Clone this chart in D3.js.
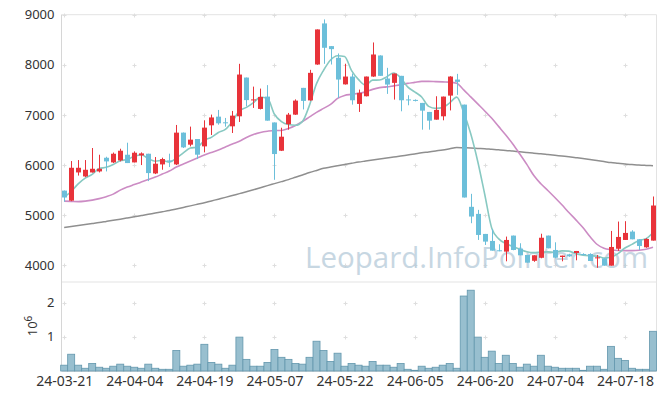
<!DOCTYPE html>
<html><head><meta charset="utf-8">
<script src="https://cdn.jsdelivr.net/npm/d3@7"></script>
<style>
body{margin:0;background:#fff;}
svg{display:block;font-family:"Noto Sans",sans-serif;}
</style></head>
<body><div id="chart"></div>
<script>
const dates = ["24-03-21","24-03-22","24-03-25","24-03-26","24-03-27","24-03-28","24-03-29","24-04-01","24-04-02","24-04-03",
"24-04-04","24-04-05","24-04-08","24-04-09","24-04-11","24-04-12","24-04-15","24-04-16","24-04-17","24-04-18",
"24-04-19","24-04-22","24-04-23","24-04-24","24-04-25","24-04-26","24-04-29","24-04-30","24-05-02","24-05-03",
"24-05-07","24-05-08","24-05-09","24-05-10","24-05-13","24-05-14","24-05-16","24-05-17","24-05-20","24-05-21",
"24-05-22","24-05-23","24-05-24","24-05-27","24-05-28","24-05-29","24-05-30","24-05-31","24-06-03","24-06-04",
"24-06-05","24-06-07","24-06-10","24-06-11","24-06-12","24-06-13","24-06-14","24-06-17","24-06-18","24-06-19",
"24-06-20","24-06-21","24-06-24","24-06-25","24-06-26","24-06-27","24-06-28","24-07-01","24-07-02","24-07-03",
"24-07-04","24-07-05","24-07-08","24-07-09","24-07-10","24-07-11","24-07-12","24-07-15","24-07-16","24-07-17",
"24-07-18","24-07-19","24-07-22","24-07-23","24-07-24"];

const open = [5490,5290,5853,5773,5853,5873,6146,6053,6093,6206,6053,6193,6226,5833,6013,6093,6013,6647,6407,6520,
6373,6793,6966,6853,6773,6973,7746,7290,7120,7366,6850,6286,6815,7006,7540,7290,8006,8826,8373,8140,
7610,7766,7220,7373,7766,8186,7726,7640,7780,7310,7300,7240,7060,6906,6973,7386,7706,7206,5167,5026,
4626,4486,4300,4273,4593,4333,4206,4090,4150,4593,4306,4166,4219,4246,4226,4226,4139,4139,3993,4330,
4506,4673,4519,4359,4493];
const high = [5493,6080,6100,6100,6340,6206,6166,6250,6326,6446,6273,6253,6226,6160,6147,6227,6800,6650,6767,6520,
6893,7007,7100,6940,7080,8020,7746,7565,7526,7595,6850,6745,7040,7310,7540,7900,8706,8906,8373,8226,
8020,7827,7506,7766,8446,8190,7940,7826,7780,7393,7310,7240,7060,7373,7366,7773,7820,7206,5426,5106,
4626,4720,4420,4573,4593,4440,4206,4200,4630,4593,4459,4193,4230,4286,4240,4240,4206,4139,4686,4873,
4880,4700,4519,4540,5373];
const low = [5270,5280,5790,5760,5850,5853,5873,6040,6073,6040,6053,6000,5680,5820,5907,5960,6000,6340,6373,6120,
6253,6600,6806,6766,6640,6860,7173,7140,7110,6886,5706,6280,6706,7000,7110,7285,8000,8020,8006,7340,
7606,7206,7060,7370,7760,7780,7420,7306,7073,7193,7270,6706,6706,6906,6893,7090,7400,5353,4840,4506,
4406,4293,4280,4080,4300,4200,4053,4070,4140,4339,4140,4080,4170,4100,4200,4086,3950,3993,3993,4290,
4506,4519,4306,4350,4493];
const close = [5353,5946,5946,5906,5926,5926,6073,6226,6286,6040,6246,6233,5840,6027,6120,6067,6647,6353,6507,6207,
6747,6950,6833,6833,6986,7806,7296,7310,7360,6886,6220,6566,7006,7286,7280,7840,8706,8340,8313,7706,
7766,7293,7440,7766,8206,7780,7606,7826,7293,7295,7290,7086,6886,7100,7366,7766,7660,5353,4973,4606,
4473,4293,4290,4506,4306,4200,4053,4200,4550,4339,4153,4193,4179,4286,4206,4086,4159,3993,4366,4566,
4646,4519,4386,4526,5193];
// volume in units of 10^6
const volume = [0.17,0.49,0.17,0.08,0.22,0.11,0.08,0.14,0.20,0.14,0.11,0.08,0.20,0.08,0.05,0.05,0.60,0.14,0.17,0.20,
0.78,0.25,0.20,0.08,0.17,0.99,0.34,0.14,0.14,0.25,0.63,0.40,0.34,0.22,0.20,0.40,0.87,0.60,0.28,0.52,
0.14,0.22,0.17,0.14,0.28,0.17,0.17,0.11,0.22,0.05,0.02,0.14,0.08,0.11,0.17,0.22,0.08,2.19,2.36,0.99,
0.40,0.58,0.22,0.46,0.22,0.11,0.20,0.14,0.46,0.14,0.11,0.08,0.08,0.08,0.02,0.14,0.14,0.05,0.72,0.37,
0.31,0.08,0.05,0.05,1.16];
const maShort = [5360,5473,5626,5740,5815,5930,5955,6011,6087,6110,6174,6206,6129,6077,6093,6057,6140,6243,6339,6356,
6492,6553,6649,6714,6870,7082,7151,7246,7352,7332,7014,6868,6808,6793,6872,7196,7624,7890,8096,8181,
8166,7884,7704,7594,7694,7697,7760,7837,7742,7560,7462,7358,7170,7131,7146,7241,7356,7049,6624,6072,
5413,4740,4527,4434,4374,4319,4271,4253,4262,4268,4259,4287,4283,4230,4203,4190,4183,4146,4162,4234,
4346,4418,4497,4529,4654];
const maMid = [5280,5275,5270,5280,5300,5330,5370,5420,5500,5560,5610,5660,5710,5760,5820,5880,5960,6020,6080,6140,
6200,6250,6300,6360,6420,6475,6550,6610,6650,6675,6690,6690,6730,6790,6870,6960,7050,7130,7210,7330,
7390,7410,7430,7460,7510,7545,7560,7580,7600,7630,7650,7670,7670,7665,7660,7655,7630,7500,7360,7220,
7080,6933,6767,6600,6420,6220,6013,5790,5627,5493,5353,5207,5053,4907,4753,4573,4420,4340,4310,4295,
4293,4293,4300,4320,4360];
const maLong = [4753,4773,4793,4813,4833,4853,4876,4899,4921,4944,4967,4992,5017,5043,5068,5093,5124,5155,5186,5218,
5250,5285,5320,5355,5392,5430,5468,5507,5548,5590,5630,5670,5710,5757,5803,5850,5893,5935,5960,5985,
6010,6035,6060,6080,6100,6120,6140,6160,6180,6202,6223,6245,6263,6282,6300,6325,6350,6345,6340,6332,
6325,6314,6304,6293,6279,6264,6250,6237,6225,6210,6195,6180,6165,6148,6130,6110,6090,6070,6050,6035,
6020,6010,6000,5993,5987];
const priceTicks = [4000,5000,6000,7000,8000,9000];
const volumeTicks = [1,2];
const dateTickIdx = [0,10,20,30,40,50,60,70,80];

const W=665,H=400;
const L=61.5,R=656.5,PT=14.7,PB=282,VB=371;
const svg=d3.select("#chart").append("svg").attr("width",W).attr("height",H);
const x=d3.scaleLinear().domain([-0.38,84.5]).range([L,R]);
const yP=d3.scaleLinear().domain([3667,9000]).range([PB,PT]);
const yV=d3.scaleLinear().domain([0,2.6]).range([VB,PB]);
const idx=d3.range(dates.length);

svg.append("defs").append("clipPath").attr("id","clipP").append("rect")
  .attr("x",L).attr("y",PT).attr("width",R-L).attr("height",PB-PT);

// frame
const frame=svg.append("g").attr("fill","none").attr("stroke","#e3e3e3").attr("stroke-width",1);
frame.append("line").attr("x1",L).attr("x2",R).attr("y1",PT).attr("y2",PT);
frame.append("line").attr("x1",R).attr("x2",R).attr("y1",PT).attr("y2",VB);
frame.append("line").attr("x1",L).attr("x2",R).attr("y1",PB).attr("y2",PB);
svg.append("line").attr("x1",L).attr("x2",L).attr("y1",PT).attr("y2",VB).attr("stroke","#d6d6d6");
svg.append("line").attr("x1",L).attr("x2",R).attr("y1",VB+0.5).attr("y2",VB+0.5).attr("stroke","#e0e0e0");

// grid crosses
const cross=svg.append("g").attr("stroke","#dedede").attr("stroke-width",1);
function addCross(cx,cy){
  cx=Math.round(cx)+0.5; cy=Math.round(cy)+0.5;
  cross.append("line").attr("x1",cx-2).attr("x2",cx+2).attr("y1",cy).attr("y2",cy);
  cross.append("line").attr("x1",cx).attr("x2",cx).attr("y1",cy-2).attr("y2",cy+2);
}
dateTickIdx.forEach(i=>{
  priceTicks.forEach(p=>addCross(x(i),yP(p)));
  volumeTicks.forEach(v=>addCross(x(i),yV(v)));
});

// watermark
svg.append("text").attr("x",305).attr("y",268).attr("font-family","'Open Sans',sans-serif")
  .attr("font-size",29.5).attr("fill","#b5cad9").attr("opacity",0.75).text("Leopard.InfoPointer.com");

// volume bars
svg.append("g").selectAll("rect").data(idx).join("rect")
  .attr("x",i=>x(i-0.5)).attr("width",i=>x(i+0.5)-x(i-0.5))
  .attr("y",i=>yV(volume[i])).attr("height",i=>yV(0)-yV(volume[i]))
  .attr("fill","#98bfcf").attr("stroke","#6397ad").attr("stroke-width",0.8);

// moving averages
const gL=svg.append("g").attr("clip-path","url(#clipP)");
const lineGen=arr=>d3.line().x(i=>x(i)).y(i=>yP(arr[i])).curve(d3.curveMonotoneX)(idx);
gL.append("path").attr("d",lineGen(maLong)).attr("fill","none").attr("stroke","#8f8f8f").attr("stroke-width",1.5);
gL.append("path").attr("d",lineGen(maMid)).attr("fill","none").attr("stroke","#cc8cc4").attr("stroke-width",1.6);
gL.append("path").attr("d",lineGen(maShort)).attr("fill","none").attr("stroke","#88c9c2").attr("stroke-width",1.6);

// candles
const up="#e8333a", dn="#6cbfda";
const gC=svg.append("g").attr("clip-path","url(#clipP)");
idx.forEach(i=>{
  const c=close[i]>=open[i]?up:dn;
  const cx=Math.round(x(i));
  gC.append("line").attr("x1",cx+0.5).attr("x2",cx+0.5).attr("y1",yP(high[i])).attr("y2",yP(low[i]))
    .attr("stroke",c).attr("stroke-width",1);
  const t=yP(Math.max(open[i],close[i])), b=yP(Math.min(open[i],close[i]));
  gC.append("rect").attr("x",cx-2).attr("width",5).attr("y",t).attr("height",Math.max(1,b-t)).attr("fill",c);
});

// axes
const yAx=svg.append("g").attr("transform",`translate(${L},0)`)
  .call(d3.axisLeft(yP).tickValues(priceTicks).tickSize(0).tickPadding(7).tickFormat(d3.format("d")));
const vAx=svg.append("g").attr("transform",`translate(${L},0)`)
  .call(d3.axisLeft(yV).tickValues(volumeTicks).tickSize(0).tickPadding(7).tickFormat(d3.format("d")));
const xAx=svg.append("g").attr("transform",`translate(0,${VB})`)
  .call(d3.axisBottom(x).tickValues(dateTickIdx).tickSize(0).tickPadding(5).tickFormat(i=>dates[i]));
[yAx,vAx,xAx].forEach(a=>{a.select(".domain").remove();
  a.selectAll("text").attr("font-family","'Noto Sans',sans-serif").attr("font-size",13).attr("fill","#333");});
xAx.selectAll("text").attr("font-size",14);

const lab=svg.append("text").attr("transform","translate(37,326) rotate(-90)").attr("text-anchor","middle")
  .attr("font-family","'Noto Sans',sans-serif").attr("font-size",13).attr("fill","#333");
lab.append("tspan").text("10");
lab.append("tspan").attr("dy",-5).attr("font-size",10).text("6");
</script></body></html>
